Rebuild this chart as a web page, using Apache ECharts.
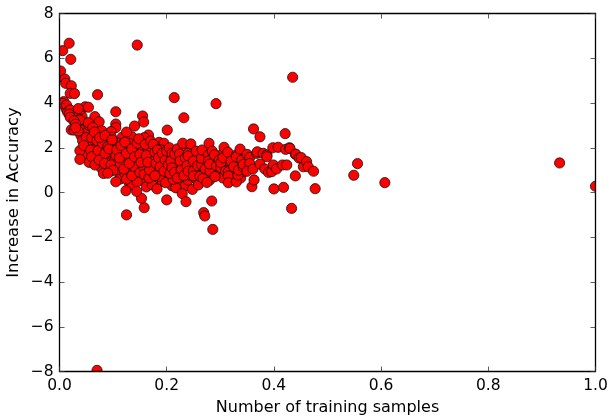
<!DOCTYPE html>
<html><head><meta charset="utf-8">
<style>html,body{margin:0;padding:0;background:#fff}#c{width:609px;height:416px}</style>
<script src="https://cdn.jsdelivr.net/npm/echarts@6/dist/echarts.min.js"></script>
</head><body><div id="c"></div>
<script>
const xLabel = "Number of training samples";
const yLabel = "Increase in Accuracy";
const outliers = [[.006,6.34],[.018,6.67],[.021,5.95],[.145,6.59],[.07,-7.95],[.214,4.24],[.232,3.34],[.292,3.97],[.435,5.15],[.421,2.63],[.362,2.84],[.374,2.49],[.549,.77],[.556,1.29],[.607,.44],[.933,1.32],[1.0,.28],[.477,.17],[.433,-.71],[.286,-1.65],[.269,-.9],[.271,-1.05],[.284,-.38],[.125,-1.0],[.158,-.68],[.153,-.26],[.071,4.37],[.105,3.61],[.155,3.42],[.157,3.15]];
const leftBand = [[.002,5.43],[.01,5.07],[.0115,4.88],[.022,4.77],[.02,4.43],[.028,4.42],[.008,4.06],[.006,3.98],[.013,3.91],[.015,3.6],[.02,3.69],[.018,3.5],[.04,3.72],[.048,3.83],[.054,3.81],[.035,3.75],[.066,3.39],[.074,3.16],[.038,3.24],[.02,3.36],[.027,3.2],[.03,3.05],[.022,2.8],[.027,2.79],[.035,2.75],[.043,2.32],[.05,2.45],[.038,1.87],[.038,1.48],[.045,2.1],[.055,3.0],[.054,3.12],[.062,2.9],[.06,2.45],[.058,1.9],[.06,1.6],[.066,1.23],[.07,2.32],[.072,1.87],[.074,1.45],[.079,2.76],[.08,2.2],[.085,1.75],[.09,2.05],[.084,1.3],[.082,.85]];
const midLeft = [[.105,3.06],[.105,2.9],[.14,2.97],[.096,2.72],[.097,2.47],[.117,2.47],[.11,2.2],[.12,1.9],[.105,1.68],[.096,1.23],[.114,1.27],[.1,1.0],[.09,.86],[.105,.48],[.125,.6],[.145,.48],[.135,.75],[.124,.08],[.144,.05],[.135,2.49],[.125,2.7],[.13,2.2],[.143,1.82],[.137,1.42],[.128,1.6],[.12,1.05],[.14,1.15],[.15,.9],[.155,2.32],[.166,2.57],[.158,2.45],[.15,2.1],[.172,2.05],[.165,1.85],[.158,1.53],[.156,1.18],[.158,.81],[.173,.34],[.182,.16],[.167,.65],[.186,2.24],[.182,1.68],[.193,1.3],[.18,1.04],[.19,.7],[.198,.44],[.201,2.79],[.195,2.2],[.175,1.55],[.17,1.2],[.168,1.0],[.178,.75],[.19,1.9],[.2,1.55],[.2,1.1],[.2,-.33],[.217,.21],[.212,.59]];
const centre = [[.205,2.0],[.21,1.75],[.208,1.4],[.21,1.1],[.215,.9],[.215,1.72],[.22,1.95],[.23,2.2],[.224,1.72],[.226,1.3],[.225,1.41],[.227,1.0],[.229,-.05],[.236,-.41],[.22,.65],[.232,.75],[.235,1.55],[.24,1.75],[.24,1.63],[.245,2.17],[.238,1.2],[.24,.95],[.248,.14],[.25,.97],[.25,.74],[.25,1.4],[.255,1.85],[.258,1.2],[.259,.34],[.262,.72],[.265,1.24],[.265,1.53],[.266,1.9],[.268,.63],[.272,1.05],[.275,.45],[.278,1.68],[.278,1.41],[.279,2.2],[.281,.95],[.28,1.27],[.285,1.85],[.289,1.68],[.29,.71],[.293,1.2],[.298,1.45],[.301,1.11],[.301,1.33],[.307,2.02],[.305,1.55],[.31,.95],[.314,1.8],[.315,.93],[.315,.74],[.315,.44],[.32,1.4],[.325,1.15],[.33,1.68],[.33,1.6],[.33,.47],[.333,.78],[.334,1.0],[.337,1.94],[.34,1.45],[.343,1.13],[.343,1.25],[.35,1.7],[.355,1.57],[.355,1.3],[.35,.95],[.359,.26],[.363,.56],[.361,1.05]];
const right = [[.368,1.75],[.369,1.82],[.38,1.75],[.374,1.27],[.387,1.68],[.387,1.6],[.383,1.05],[.39,.9],[.396,.93],[.398,2.0],[.399,1.23],[.4,.16],[.408,2.02],[.405,1.05],[.416,1.23],[.418,.23],[.424,1.23],[.422,1.93],[.429,2.0],[.43,1.97],[.44,.74],[.44,1.71],[.441,1.71],[.447,1.54],[.451,1.56],[.455,1.15],[.461,1.38],[.464,1.15],[.474,.95]];
const denseTop = [[.03,2.9],[.065,2.7],[.075,2.45],[.085,2.55],[.092,1.95],[.098,2.35],[.107,1.9],[.112,1.55],[.115,2.1],[.122,2.25],[.125,1.75],[.13,1.3],[.135,1.95],[.14,1.6],[.145,2.2],[.148,2.4],[.15,1.7],[.152,1.35],[.16,2.15],[.162,1.65],[.165,1.35],[.17,2.3],[.175,2.15],[.178,1.8],[.18,1.3],[.183,1.9],[.185,1.55],[.188,1.15],[.192,1.75],[.195,.95],[.197,1.45],[.2,1.85],[.203,1.25],[.206,.85],[.21,1.55],[.213,1.25],[.216,1.05],[.218,1.45],[.222,1.15],[.228,1.55],[.231,1.85],[.234,1.05],[.237,1.4],[.242,1.25],[.246,.75],[.252,1.6],[.256,1.0],[.26,1.45],[.264,1.75],[.27,1.35],[.274,1.15],[.283,1.5],[.288,1.1],[.295,1.55],[.303,1.7],[.309,1.25],[.318,1.6],[.322,1.2],[.328,1.35],[.336,1.25]];
const gapFill = [[.012,3.75],[.025,3.55],[.033,3.45],[.042,3.4],[.048,3.1],[.045,2.8],[.052,2.7],[.04,2.55],[.05,2.2],[.048,1.75],[.055,1.35],[.063,2.15],[.066,1.95],[.068,1.65],[.078,1.95],[.079,1.55],[.078,1.1],[.088,2.35],[.09,1.5],[.092,1.15],[.095,1.75],[.095,.95],[.103,2.15],[.103,1.45],[.108,1.05],[.112,.85],[.113,.6],[.118,1.5],[.122,.85],[.13,.45],[.132,.95],[.135,.35],[.147,.75],[.155,.55],[.16,1.0],[.162,.25],[.172,.85],[.185,.45],[.192,.5],[.205,.55],[.21,.3],[.222,.4],[.235,.3],[.24,.55],[.255,.6],[.268,.85],[.28,.55],[.3,.85],[.305,.65],[.32,.75],[.338,.65],[.345,.95]];
const samples = [...outliers, ...gapFill, ...leftBand, ...midLeft, ...denseTop, ...centre, ...right];
const xTicks = {min: 0, max: 1, interval: .2};
const yTicks = {min: -8, max: 8, interval: 2};

const font = "DejaVu Sans";
const line = {show: true, onZero: false, lineStyle: {color: "#000", width: 1.3}};
const tick = {show: true, inside: true, length: 5, lineStyle: {color: "#333", width: 0.8}};
const chart = echarts.init(document.getElementById("c"), null, {renderer: "canvas"});
chart.setOption({
  animation: false,
  backgroundColor: "#fff",
  grid: {left: 59.5, right: 13.5, top: 13.5, bottom: 44.5, containLabel: false, outerBoundsMode: "none"},
  xAxis: [
    {type: "value", ...xTicks, position: "bottom", splitLine: {show: false}, axisLine: line, axisTick: tick, z: 5,
     name: xLabel, nameLocation: "middle", nameGap: 28, nameMoveOverlap: false,
     nameTextStyle: {fontFamily: font, fontSize: 16, color: "#000"},
     axisLabel: {fontFamily: font, fontSize: 15.5, color: "#000", margin: 6, formatter: v => v.toFixed(1), hideOverlap: false, showMinLabel: true, showMaxLabel: true}},
    {type: "value", ...xTicks, position: "top", splitLine: {show: false}, axisLine: line, axisTick: tick, axisLabel: {show: false}, z: 5}
  ],
  yAxis: [
    {type: "value", ...yTicks, position: "left", splitLine: {show: false}, axisLine: line, axisTick: tick, z: 5,
     name: yLabel, nameLocation: "middle", nameGap: 37, nameRotate: 90, nameMoveOverlap: false,
     nameTextStyle: {fontFamily: font, fontSize: 16.5, color: "#000"},
     axisLabel: {fontFamily: font, fontSize: 15.5, color: "#000", margin: 6, formatter: v => String(v).replace("-", "\u2212"), showMinLabel: true, showMaxLabel: true}},
    {type: "value", ...yTicks, position: "right", splitLine: {show: false}, axisLine: line, axisTick: tick, axisLabel: {show: false}, z: 5}
  ],
  series: [{
    type: "custom", data: samples, clip: true, encode: {x: 0, y: 1}, z: 2,
    renderItem: (params, api) => {
      const p = api.coord([api.value(0), api.value(1)]);
      return {type: "circle", shape: {cx: p[0], cy: p[1], r: 5.1}, style: {fill: "#ff0000", stroke: "#111", lineWidth: 0.8}};
    }
  }]
});
</script></body></html>
